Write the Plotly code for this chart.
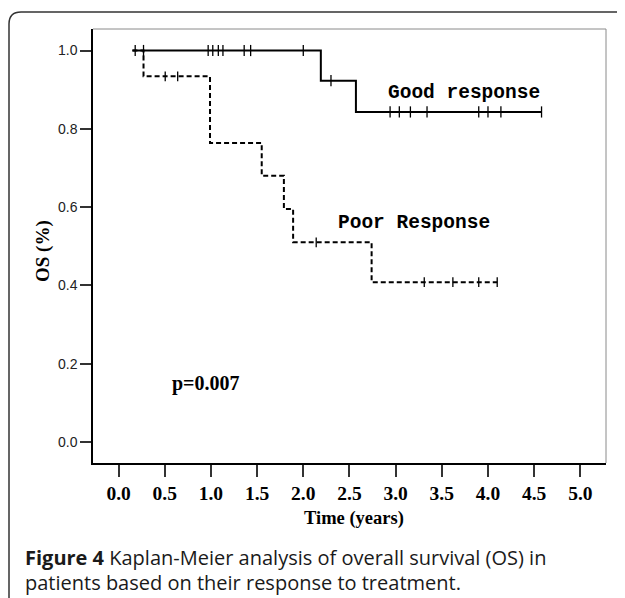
import plotly.graph_objects as go

# ---- data ----
good_t = [0.15, 2.19, 2.57, 4.58]
good_s = [1.0, 0.923, 0.843, 0.843]
good_cens = [0.18, 0.27, 0.97, 1.02, 1.08, 1.13, 1.36, 1.43, 2.00, 2.30,
             2.94, 3.04, 3.16, 3.34, 3.90, 4.00, 4.14, 4.58]

poor_t = [0.15, 0.27, 0.99, 1.55, 1.79, 1.89, 2.74, 4.10]
poor_s = [1.0, 0.934, 0.764, 0.68, 0.595, 0.51, 0.408, 0.408]
poor_cens = [0.505, 0.64, 2.14, 3.31, 3.62, 3.90, 4.10]

x_ticks = [0.0, 0.5, 1.0, 1.5, 2.0, 2.5, 3.0, 3.5, 4.0, 4.5, 5.0]
y_ticks = [0.0, 0.2, 0.4, 0.6, 0.8, 1.0]


def step_val(t, ts, ss):
    v = ss[0]
    for ti, si in zip(ts, ss):
        if t >= ti:
            v = si
    return v


OFF = 8  # page body margin
W, H = 617, 590
L, R, T, B = 85, 19, 21, 135
pw, ph = W - L - R, H - T - B


def px(x):  # page pixel -> paper
    return (x - OFF - L) / pw


def py(y):
    return (H - B - (y - OFF)) / ph


fig = go.Figure()
fig.add_trace(go.Scatter(x=poor_t, y=poor_s, mode="lines", line_shape="hv",
                         line=dict(color="black", width=2, dash="5px,3px"),
                         showlegend=False))
fig.add_trace(go.Scatter(x=poor_cens, y=[step_val(t, poor_t, poor_s) for t in poor_cens],
                         mode="markers",
                         marker=dict(symbol="line-ns", size=7, line=dict(color="black", width=1.3)),
                         showlegend=False))
fig.add_trace(go.Scatter(x=good_t, y=good_s, mode="lines", line_shape="hv",
                         line=dict(color="black", width=2), showlegend=False))
fig.add_trace(go.Scatter(x=good_cens, y=[step_val(t, good_t, good_s) for t in good_cens],
                         mode="markers",
                         marker=dict(symbol="line-ns", size=8, line=dict(color="black", width=1.3)),
                         showlegend=False))

fig.update_xaxes(range=[-0.277, 5.278], tickvals=x_ticks,
                 ticktext=[f"<b>{v:.1f}</b>" for v in x_ticks],
                 showgrid=False, zeroline=False, showline=True, linecolor="black", linewidth=1.5,
                 ticks="outside", ticklen=12, tickwidth=1.5, tickcolor="#333",
                 tickfont=dict(family="Liberation Serif", size=19.5, color="black"))
fig.update_yaxes(range=[-0.054, 1.055], tickvals=y_ticks,
                 ticktext=[f"{v:.1f}" for v in y_ticks],
                 showgrid=False, zeroline=False, showline=True, linecolor="black", linewidth=1.5,
                 ticks="outside", ticklen=11, tickwidth=1.5, tickcolor="#333",
                 tickfont=dict(family="Liberation Sans", size=14, color="#222"))

shapes = [
    dict(type="line", xref="paper", yref="paper", x0=0, x1=1, y0=1, y1=1,
         line=dict(color="#8a8a8a", width=1)),
    dict(type="line", xref="paper", yref="paper", x0=1, x1=1, y0=0, y1=1,
         line=dict(color="#8a8a8a", width=1)),
    dict(type="path", xref="paper", yref="paper",
         path=f"M {px(9)},{py(610)} L {px(9)},{py(24)} Q {px(9)},{py(12)} {px(21)},{py(12)} L {px(640)},{py(12)}",
         line=dict(color="#333", width=1.5)),
]

ann = [
    dict(x=3.74, y=0.892, xref="x", yref="y", text="<b>Good response</b>", showarrow=False,
         xanchor="center", yanchor="middle",
         font=dict(family="Liberation Mono", size=19.5, color="black")),
    dict(x=3.20, y=0.559, xref="x", yref="y", text="<b>Poor Response</b>", showarrow=False,
         xanchor="center", yanchor="middle",
         font=dict(family="Liberation Mono", size=19.5, color="black")),
    dict(x=0.95, y=0.150, xref="x", yref="y", text="<b>p=0.007</b>", showarrow=False,
         xanchor="center", yanchor="middle",
         font=dict(family="Liberation Serif", size=20, color="black")),
    dict(x=px(354), y=py(519), xref="paper", yref="paper", text="<b>Time (years)</b>",
         xanchor="center", yanchor="middle",
         showarrow=False, font=dict(family="Liberation Serif", size=18.5, color="black")),
    dict(x=px(43), y=py(251), xref="paper", yref="paper", text="<b>OS (%)</b>", textangle=-90,
         xanchor="center", yanchor="middle",
         showarrow=False, font=dict(family="Liberation Serif", size=19, color="black")),
    dict(x=px(23), y=py(557), xref="paper", yref="paper", xanchor="left", yanchor="middle",
         text="<b>Figure 4</b> Kaplan-Meier analysis of overall survival (OS) in",
         showarrow=False, font=dict(family="Open Sans", size=20, color="#1a1a1a")),
    dict(x=px(23), y=py(582), xref="paper", yref="paper", xanchor="left", yanchor="middle",
         text="patients based on their response to treatment.",
         showarrow=False, font=dict(family="Open Sans", size=20, color="#1a1a1a")),
]

fig.update_layout(width=W, height=H, margin=dict(l=L, r=R, t=T, b=B),
                  plot_bgcolor="white", paper_bgcolor="white",
                  shapes=shapes, annotations=ann, showlegend=False)

fig.write_html("out.html")
